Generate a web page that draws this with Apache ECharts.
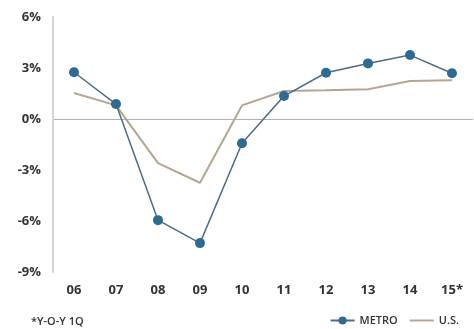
<!DOCTYPE html>
<html>
<head>
<meta charset="utf-8">
<script src="https://cdn.jsdelivr.net/npm/echarts@6/dist/echarts.min.js"></script>
<style>
  html, body { margin: 0; padding: 0; background: #fff; }
  #chart { width: 474px; height: 329px; }
</style>
</head>
<body>
<div id="chart"></div>
<script>
// Year-over-year employment growth, metro vs. U.S.
const years = ['06', '07', '08', '09', '10', '11', '12', '13', '14', '15*'];
const metro = [2.75, 0.88, -5.95, -7.3, -1.43, 1.35, 2.72, 3.27, 3.76, 2.69];
const us = [1.53, 0.8, -2.6, -3.75, 0.8, 1.65, 1.69, 1.75, 2.24, 2.28];
const yTicks = { min: -9, max: 6, step: 3 };
const footnote = '*Y-O-Y 1Q';

const FONT = '"Open Sans", "DejaVu Sans", sans-serif';
const chart = echarts.init(document.getElementById('chart'));

chart.setOption({
  animation: false,
  textStyle: { fontFamily: FONT },
  grid: { left: 53, right: 1, top: 17, bottom: 57, containLabel: false },
  title: {
    text: footnote,
    left: 26,
    bottom: -3,
    textStyle: { fontSize: 11, fontWeight: 600, color: '#333', fontFamily: FONT }
  },
  legend: {
    right: 10,
    bottom: -2,
    itemWidth: 24,
    itemHeight: 10,
    itemGap: 12,
    textStyle: { fontSize: 11, fontWeight: 600, color: '#333', fontFamily: FONT },
    data: [
      { name: 'METRO' },
      { name: 'U.S.', icon: 'path://M0,0 L24,0 L24,2 L0,2 Z' }
    ]
  },
  xAxis: {
    type: 'category',
    data: years,
    boundaryGap: true,
    axisLine: { show: false },
    axisTick: { show: false },
    axisLabel: { fontSize: 13, fontWeight: 700, color: '#333', margin: 12, fontFamily: FONT }
  },
  yAxis: {
    type: 'value',
    min: yTicks.min,
    max: yTicks.max,
    interval: yTicks.step,
    axisLine: { show: true, lineStyle: { color: '#d4d4d4', width: 2 } },
    axisTick: { show: false },
    axisLabel: {
      fontSize: 13, fontWeight: 700, color: '#333', margin: 12,
      fontFamily: FONT,
      formatter: v => v + '%'
    },
    splitLine: {
      show: true,
      lineStyle: {
        color: ['transparent', 'transparent', 'transparent', '#b0b0b0', 'transparent', 'transparent'],
        width: 1
      }
    }
  },
  series: [
    {
      name: 'U.S.',
      type: 'line',
      data: us,
      symbol: 'none',
      lineStyle: { color: '#b3a692', width: 2 },
      itemStyle: { color: '#b3a692' },
      z: 2
    },
    {
      name: 'METRO',
      type: 'line',
      data: metro,
      symbol: 'circle',
      symbolSize: 10,
      lineStyle: { color: '#4d6b82', width: 1.5 },
      itemStyle: { color: '#2f6a92' },
      z: 3
    }
  ]
});
</script>
</body>
</html>
